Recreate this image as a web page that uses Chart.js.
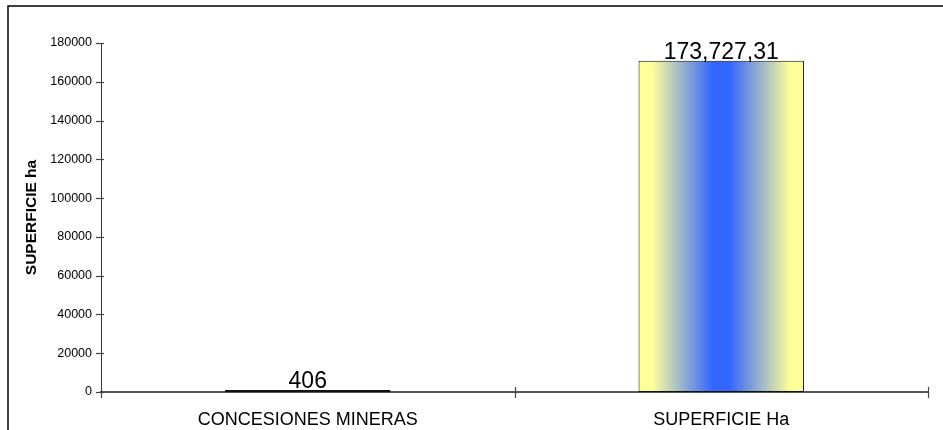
<!DOCTYPE html>
<html>
<head>
<meta charset="utf-8">
<script src="https://cdn.jsdelivr.net/npm/chart.js@4.4.1/dist/chart.umd.min.js"></script>
<style>
  body { margin: 0; background: #fff; }
</style>
</head>
<body>
<canvas id="SuperficieChart" width="943" height="430"></canvas>
<script>
// datos del grafico
const Categorias = ['CONCESIONES MINERAS', 'SUPERFICIE Ha'];
const Superficie = [406, 170800];
const Etiquetas = ['406', '173,727,31'];
const EjeYMin = 0;
const EjeYMax = 180000;
const EjeYPaso = 20000;

const FONT = '"Liberation Sans", Arial, sans-serif';

// degradado amarillo - azul - amarillo en cada barra
const degradado = {
  id: 'degradado',
  beforeDatasetsDraw(chart) {
    const ctx = chart.ctx;
    chart.getDatasetMeta(0).data.forEach(el => {
      const x0 = el.x - el.width / 2;
      const x1 = el.x + el.width / 2;
      const g = ctx.createLinearGradient(x0, 0, x1, 0);
      g.addColorStop(0, '#FFFF99');
      g.addColorStop(0.08, '#FFFF99');
      g.addColorStop(0.45, '#3366FF');
      g.addColorStop(0.55, '#3366FF');
      g.addColorStop(0.92, '#FFFF99');
      g.addColorStop(1, '#FFFF99');
      el.options = Object.assign({}, el.options, { backgroundColor: g });
    });
  }
};

// marco, marcas de los ejes y etiquetas de valores
const extras = {
  id: 'extras',
  afterDraw(chart) {
    const { ctx, chartArea: a, scales: { x, y } } = chart;
    ctx.save();
    ctx.strokeStyle = '#000';
    ctx.lineWidth = 1.5;
    ctx.strokeRect(8, 6, 1000, 1000);

    ctx.strokeStyle = '#444';
    ctx.lineWidth = 1.2;
    y.ticks.forEach(t => {
      const py = Math.round(y.getPixelForValue(t.value)) + 0.5;
      ctx.beginPath();
      ctx.moveTo(a.left - 5, py);
      ctx.lineTo(a.left + 3, py);
      ctx.stroke();
    });
    for (let i = 0; i <= Categorias.length; i++) {
      const px = Math.round(x.getPixelForValue(i - 0.5)) + 0.5;
      ctx.beginPath();
      ctx.moveTo(px, a.bottom - 5);
      ctx.lineTo(px, a.bottom + 6);
      ctx.stroke();
    }

    ctx.fillStyle = '#000';
    ctx.font = '23px ' + FONT;
    ctx.textAlign = 'center';
    ctx.textBaseline = 'alphabetic';
    chart.getDatasetMeta(0).data.forEach((el, i) => {
      ctx.fillText(Etiquetas[i], el.x, el.y - 2);
    });
    ctx.restore();
  }
};

const SuperficieData = {
  labels: Categorias,
  datasets: [{
    data: Superficie,
    backgroundColor: '#FFFF99',
    borderColor: '#111',
    borderWidth: 1,
    borderSkipped: false,
    minBarLength: 2,
    barPercentage: 0.4,
    categoryPercentage: 1
  }]
};

const SuperficieConfig = {
  type: 'bar',
  data: SuperficieData,
  plugins: [degradado, extras],
  options: {
    responsive: false,
    animation: false,
    layout: { padding: { left: 0, top: 43, right: 15, bottom: 0 } },
    plugins: {
      legend: { display: false },
      tooltip: { enabled: false }
    },
    scales: {
      x: {
        offset: true,
        grid: { display: false, drawTicks: false },
        border: { display: true, color: '#555', width: 2 },
        ticks: { color: '#000', padding: 17, font: { family: FONT, size: 18 } },
        afterFit(scale) { scale.height = 38; }
      },
      y: {
        min: EjeYMin,
        max: EjeYMax,
        grid: { display: false, drawTicks: false },
        border: { display: true, color: '#333', width: 1 },
        ticks: {
          stepSize: EjeYPaso,
          color: '#000',
          padding: 9,
          font: { family: FONT, size: 12.5 },
          callback: v => String(v)
        },
        title: {
          display: true,
          text: 'SUPERFICIE ha',
          color: '#000',
          padding: { top: 22, bottom: 0 },
          font: { family: FONT, size: 15.5, weight: 'bold' }
        },
        afterFit(scale) { scale.width = 101; }
      }
    }
  }
};

const SuperficieChart = new Chart(
  document.getElementById('SuperficieChart'),
  SuperficieConfig
);
</script>
</body>
</html>
